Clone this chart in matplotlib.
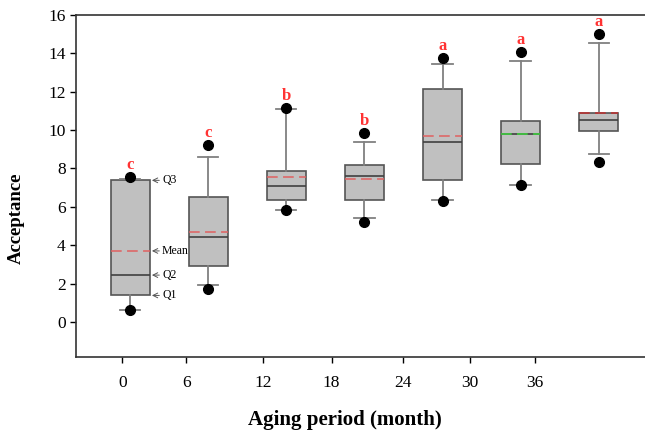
import matplotlib.pyplot as plt

# values (SigmaPlot style boxes: 5th/95th dots)
months = ['0', '6', '12', '18', '24', '30', '36']
low_dot = [0.63, 1.71, 5.81, 5.20, 6.32, 7.14, 8.34]
whis_lo = [0.63, 1.94, 5.81, 5.43, 6.34, 7.14, 8.73]
q1 = [1.38, 2.90, 6.34, 6.34, 7.42, 8.22, 9.93]
median = [2.44, 4.43, 7.10, 7.63, 9.39, 9.80, 10.51]
mean = [3.70, 4.69, 7.56, 7.43, 9.69, 9.82, 10.87]
q3 = [7.38, 6.49, 7.89, 8.20, 12.15, 10.47, 10.89]
whis_hi = [7.47, 8.60, 11.10, 9.39, 13.47, 13.61, 14.53]
high_dot = [7.55, 9.23, 11.15, 9.84, 13.75, 14.07, 14.99]
letters = ['c', 'c', 'b', 'b', 'a', 'a', 'a']

plt.rcParams['font.family'] = ['Liberation Serif', 'DejaVu Serif']

stats = []
for i in range(len(months)):
    stats.append({
        'med': median[i], 'q1': q1[i], 'q3': q3[i],
        'whislo': whis_lo[i], 'whishi': whis_hi[i],
        'mean': mean[i], 'fliers': [low_dot[i], high_dot[i]],
    })

fig = plt.figure(figsize=(6.45, 4.32), dpi=100)
ax = fig.add_axes([0.1178, 0.1736, 0.888, 0.7917])

res = ax.bxp(
    stats, positions=range(len(months)), widths=0.5, capwidths=0.26,
    patch_artist=True, showmeans=True, meanline=True,
    boxprops=dict(facecolor='#c0c0c0', edgecolor='#555555', linewidth=1.2),
    medianprops=dict(color='#404040', linewidth=1.2),
    whiskerprops=dict(color='#808080', linewidth=1.3),
    capprops=dict(color='#808080', linewidth=1.3),
    flierprops=dict(marker='o', markerfacecolor='black', markeredgecolor='black',
                    markersize=7),
    meanprops=dict(color='#e06060', linewidth=1.1, linestyle=(0, (7, 3.5))),
)
mean_colors = ['#e06060'] * 5 + ['#3ed83e', '#c03030']
for line, c in zip(res['means'], mean_colors):
    line.set_color(c)
    line.set_zorder(4)
for fl in res['fliers']:
    fl.set_zorder(5)

for i, lab in enumerate(letters):
    ax.text(i, high_dot[i] + 0.62, lab, ha='center', va='center',
            color='#ff3333', fontsize=12, fontweight='bold')

# legend-like labels on the first box
for name, val in [('Q3', q3[0]), ('Mean', mean[0]), ('Q2', median[0]), ('Q1', q1[0])]:
    ax.annotate(name, xy=(0.28, val), xytext=(0.41, val), va='center', fontsize=8.5,
                arrowprops=dict(arrowstyle='->', color='#555555', lw=0.7,
                                shrinkA=0, shrinkB=0))

ax.set_xlim(-0.692, 6.64)
ax.set_ylim(-1.83, 16)
ax.set_yticks(range(0, 17, 2))
ax.set_xticks([-0.10, 0.72, 1.70, 2.58, 3.50, 4.35, 5.18])
ax.set_xticklabels(months)
ax.tick_params(axis='both', direction='out', length=4, width=1, labelsize=12.5)
ax.tick_params(axis='x', pad=9)

for side in ['left', 'top', 'bottom']:
    ax.spines[side].set_linewidth(1.2)
    ax.spines[side].set_color('#333333')
ax.spines['right'].set_visible(False)

ax.set_xlabel('Aging period (month)', fontsize=15, fontweight='bold')
ax.xaxis.set_label_coords(0.469, -0.155)
ax.set_ylabel('Acceptance', fontsize=13.5, fontweight='bold')
ax.yaxis.set_label_coords(-0.089, 0.406)

fig.savefig('out.png', dpi=100)
